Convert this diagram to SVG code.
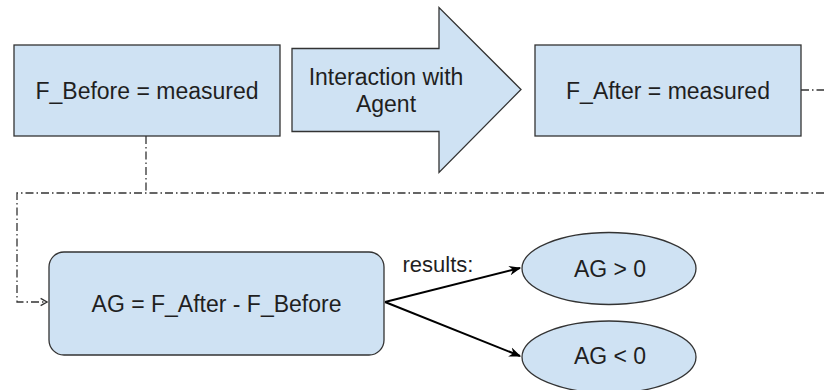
<svg xmlns="http://www.w3.org/2000/svg" width="824" height="390" viewBox="0 0 824 390">
<style>
.node{fill:#cfe2f3;stroke:#333;stroke-width:1.3}
.t{font-family:"Liberation Sans",Arial,sans-serif;font-size:23px;fill:#1f1f1f;text-anchor:middle}
.dd{fill:none;stroke:#333;stroke-width:1.3;stroke-dasharray:8 3 1.5 3}
.solid{fill:none;stroke:#000;stroke-width:2}
</style>
<defs>
<marker id="ah" viewBox="0 0 10 10" refX="9" refY="5" markerWidth="6" markerHeight="6" markerUnits="strokeWidth" orient="auto">
<path d="M0,1 L10,5 L0,9 L3,5 Z" fill="#000"/>
</marker>
<marker id="oh" viewBox="0 0 10 10" refX="9" refY="5" markerWidth="7" markerHeight="7" markerUnits="strokeWidth" orient="auto">
<path d="M2,1 L9,5 L2,9" fill="none" stroke="#333" stroke-width="1.5"/>
</marker>
</defs>
<rect width="824" height="390" fill="#fff"/>
<g id="connectors">
<path class="dd" d="M146,136 V193"/>
<path class="dd" d="M824,193 H17 V302 H47" marker-end="url(#oh)"/>
<path class="dd" d="M801,90 H824"/>
<path class="solid" d="M385,302 L520,268" marker-end="url(#ah)"/>
<path class="solid" d="M385,302 L520,356" marker-end="url(#ah)"/>
<text class="t" x="438" y="272" style="font-size:22px">results:</text>
</g>
<g id="f_before">
<rect class="node" x="14" y="45" width="266" height="91"/>
<text class="t" x="147" y="99">F_Before = measured</text>
</g>
<g id="interaction">
<path class="node" d="M292,48.5 H439 V7.5 L521,89.5 L439,172.5 V131.5 H292 Z"/>
<text class="t" x="386" y="85">Interaction with</text>
<text class="t" x="386" y="111.5">Agent</text>
</g>
<g id="f_after">
<rect class="node" x="535" y="45" width="266" height="91"/>
<text class="t" x="668" y="99">F_After = measured</text>
</g>
<g id="ag">
<rect class="node" x="49" y="252" width="335" height="103" rx="15" ry="15"/>
<text class="t" x="216.5" y="312">AG = F_After - F_Before</text>
</g>
<g id="ag_pos">
<ellipse class="node" cx="609" cy="268.5" rx="87" ry="36"/>
<text class="t" x="610" y="276.5">AG &gt; 0</text>
</g>
<g id="ag_neg">
<ellipse class="node" cx="609" cy="357" rx="87" ry="36"/>
<text class="t" x="610" y="363.5">AG &lt; 0</text>
</g>
</svg>
